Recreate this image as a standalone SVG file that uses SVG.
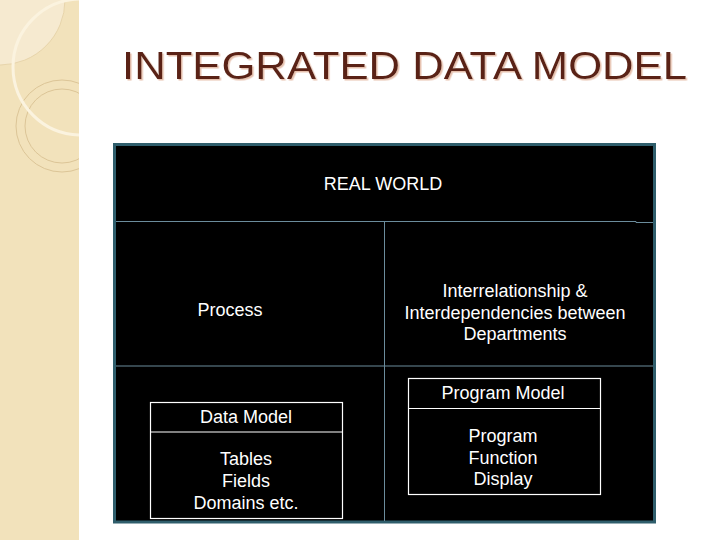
<svg xmlns="http://www.w3.org/2000/svg" width="720" height="540" viewBox="0 0 720 540">
<defs>
<style>
.t{font-family:"Liberation Sans",Arial,sans-serif;font-size:18px;fill:#ffffff;text-anchor:middle}
.ln{stroke:#6b8c9c;stroke-width:1;fill:none}
.bx{stroke:#ffffff;stroke-width:1.2;fill:#000000}
.title{font-family:"Liberation Sans",Arial,sans-serif;font-size:39px}
</style>
<filter id="shadow" x="-5%" y="-20%" width="110%" height="150%">
<feDropShadow dx="1.5" dy="1.5" stdDeviation="0.6" flood-color="#e3b9a4" flood-opacity="0.9"/>
</filter>
<clipPath id="strip"><rect x="0" y="0" width="79" height="540"/></clipPath>
</defs>
<rect x="0" y="0" width="720" height="540" fill="#ffffff"/>
<g id="decor" clip-path="url(#strip)">
<rect x="0" y="0" width="79" height="540" fill="#F2E2BB"/>
<circle cx="0" cy="0" r="65" fill="#F6EAD0" stroke="#e3cfa3" stroke-width="0.8"/>
<circle cx="62" cy="126" r="46" fill="none" stroke="#dcc597" stroke-width="1"/>
<circle cx="62" cy="126" r="37" fill="none" stroke="#dcc597" stroke-width="1"/>
<circle cx="81" cy="67" r="68" fill="none" stroke="#FBF3DF" stroke-width="3"/>
</g>
<g id="title">
<text class="title" x="122" y="79" fill="#5a2216" filter="url(#shadow)" textLength="565" lengthAdjust="spacingAndGlyphs">INTEGRATED DATA MODEL</text>
</g>
<g id="frame">
<rect x="114.5" y="144.5" width="540" height="377.5" fill="#000000" stroke="#2f5e6c" stroke-width="3"/>
</g>
<g id="connectors">
<polyline class="ln" points="116,221.5 636,221.5 636,222.5 653,222.5"/>
<line class="ln" x1="384.5" y1="221.5" x2="384.5" y2="521"/>
<line class="ln" x1="116" y1="366" x2="653" y2="366"/>
</g>
<g id="real-world">
<text class="t" x="383" y="190">REAL WORLD</text>
</g>
<g id="process">
<text class="t" x="230" y="315.5">Process</text>
</g>
<g id="interrelationship">
<text class="t" x="515" y="297">Interrelationship &amp;</text>
<text class="t" x="515" y="318.5">Interdependencies between</text>
<text class="t" x="515" y="340">Departments</text>
</g>
<g id="data-model">
<rect class="bx" x="150.5" y="402.5" width="192" height="116"/>
<line stroke="#ffffff" stroke-width="1.2" x1="150.5" y1="432" x2="342.5" y2="432"/>
<text class="t" x="246" y="422.5">Data Model</text>
<text class="t" x="246" y="465">Tables</text>
<text class="t" x="246" y="487">Fields</text>
<text class="t" x="246" y="509">Domains etc.</text>
</g>
<g id="program-model">
<rect class="bx" x="408.5" y="378.5" width="192" height="116"/>
<line stroke="#ffffff" stroke-width="1.2" x1="408.5" y1="408.5" x2="600.5" y2="408.5"/>
<text class="t" x="503" y="399">Program Model</text>
<text class="t" x="503" y="441.5">Program</text>
<text class="t" x="503" y="463.5">Function</text>
<text class="t" x="503" y="485">Display</text>
</g>
</svg>
